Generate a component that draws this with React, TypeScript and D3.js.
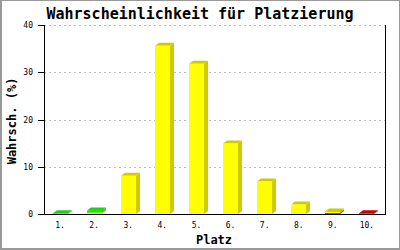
import React from "react";
import * as d3 from "d3";

const categories = ["1.", "2.", "3.", "4.", "5.", "6.", "7.", "8.", "9.", "10."];
const redValues = [0, 0, 0, 0, 0, 0, 0, 0, 0.2, 0.15];
const yellowValues = [0, 0.3, 8.1, 35.6, 31.8, 14.9, 6.9, 2.0, 0.35, 0];
const greenValues = [0.15, 0.45, 0, 0, 0, 0, 0, 0, 0, 0];
const yTicks = [0, 10, 20, 30, 40];

const seriesColors = [
  { key: "red", front: "#ff0000", dark: "#cc0000" },
  { key: "yellow", front: "#ffff00", dark: "#cccc00" },
  { key: "green", front: "#00ee00", dark: "#22cc22" },
];

const W = 400;
const H = 250;
const left = 44;
const right = 385;
const top = 25;
const bottom = 214;
const barW = 15;
const dx = 4;
const dy = 3;
const mono = "DejaVu Sans Mono, monospace";

export default function App() {
  const x = d3.scaleBand<string>().domain(categories).range([left, right]);
  const y = d3.scaleLinear().domain([0, 40]).range([bottom, top]);

  const rows = categories.map((c, i) => ({
    cat: c,
    red: redValues[i],
    yellow: yellowValues[i],
    green: greenValues[i],
  }));
  const stack = d3.stack<any>().keys(["red", "yellow", "green"]);
  const series = stack(rows);

  const segs: JSX.Element[] = [];
  rows.forEach((r, i) => {
    const cx = (x(r.cat) as number) + x.bandwidth() / 2;
    const x0 = Math.round(cx - barW / 2 - 1);
    series.forEach((s, si) => {
      const [a, b] = s[i];
      if (b - a <= 0) return;
      const yb = y(a);
      const yt = y(b);
      const col = seriesColors[si];
      const x1 = x0 + barW;
      segs.push(
        <g key={`${i}-${si}`}>
          <polygon
            points={`${x1},${yt} ${x1 + dx},${yt - dy} ${x1 + dx},${yb - dy} ${x1},${yb}`}
            fill={col.dark}
          />
          <polygon
            points={`${x0},${yt} ${x0 + dx},${yt - dy} ${x1 + dx},${yt - dy} ${x1},${yt}`}
            fill={col.dark}
          />
          <rect x={x0} y={yt} width={barW} height={Math.max(0, yb - yt)} fill={col.front} />
        </g>
      );
    });
  });

  return (
    <svg
      width={W}
      height={H}
      style={{ position: "absolute", left: 0, top: 0, background: "#fff" }}
    >
      <rect x={0} y={0} width={W} height={H} fill="#fff" />
      <rect x={0.5} y={0.5} width={W - 1} height={H - 1.5} fill="none" stroke="#999" strokeWidth={1} />
      <line x1={0} x2={W} y1={H - 1} y2={H - 1} stroke="#999" strokeWidth={2} />
      <line x1={1} x2={1} y1={0} y2={H} stroke="#999" strokeWidth={2} />

      <text
        x={200}
        y={19}
        textAnchor="middle"
        fontFamily={mono}
        fontWeight="bold"
        fontSize={15}
        fill="#000"
      >
        Wahrscheinlichkeit für Platzierung
      </text>

      {yTicks.filter((t) => t > 0).map((t) => (
        <line
          key={`g${t}`}
          x1={left}
          x2={right}
          y1={Math.round(y(t)) + 0.5}
          y2={Math.round(y(t)) + 0.5}
          stroke="#bbb"
          strokeDasharray="2,3"
        />
      ))}

      {segs}

      <line x1={left + 0.5} x2={left + 0.5} y1={top} y2={bottom} stroke="#000" />
      <line x1={right + 0.5} x2={right + 0.5} y1={top} y2={bottom} stroke="#000" />
      <line x1={38} x2={right + 1} y1={bottom + 0.5} y2={bottom + 0.5} stroke="#000" />

      {yTicks.map((t) => (
        <g key={`t${t}`}>
          <line x1={38} x2={left} y1={Math.round(y(t)) + 0.5} y2={Math.round(y(t)) + 0.5} stroke="#000" />
          <text
            x={33}
            y={y(t) + 3}
            textAnchor="end"
            fontFamily={mono}
            fontSize={8}
            fill="#000"
          >
            {t}
          </text>
        </g>
      ))}

      {categories.map((c) => (
        <text
          key={`c${c}`}
          x={(x(c) as number) + x.bandwidth() / 2 - 1}
          y={228}
          textAnchor="middle"
          fontFamily={mono}
          fontSize={8}
          fill="#000"
        >
          {c}
        </text>
      ))}

      <text
        x={214}
        y={244}
        textAnchor="middle"
        fontFamily={mono}
        fontWeight="bold"
        fontSize={12}
        fill="#000"
      >
        Platz
      </text>

      <text
        transform={`translate(16,121) rotate(-90)`}
        textAnchor="middle"
        fontFamily={mono}
        fontWeight="bold"
        fontSize={12}
        fill="#000"
      >
        Wahrsch. (%)
      </text>
    </svg>
  );
}
